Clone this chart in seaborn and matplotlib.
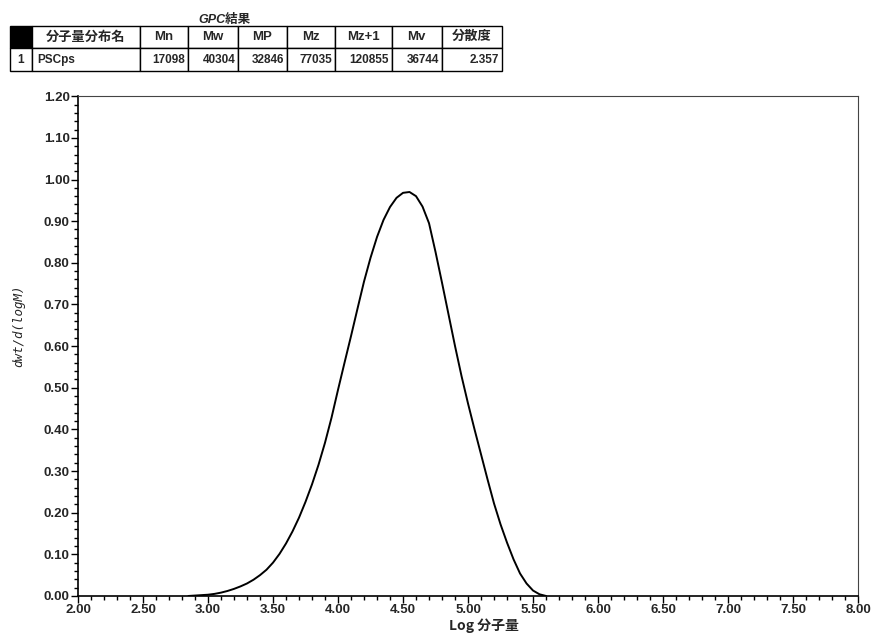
import numpy as np
import pandas as pd
import matplotlib
matplotlib.use("Agg")
import matplotlib.pyplot as plt
import seaborn as sns
from matplotlib.ticker import MultipleLocator, FormatStrFormatter

# GPC summary table
table_title = "GPC結果"
col_labels = ["", "分子量分布名", "Mn", "Mw", "MP", "Mz", "Mz+1", "Mv", "分散度"]
row_values = ["1", "PSCps", "17098", "40304", "32846", "77035", "120855", "36744", "2.357"]

# distribution curve
log_m = [2.85, 2.90, 2.95, 3.00, 3.05, 3.10, 3.15, 3.20, 3.25, 3.30,
         3.35, 3.40, 3.45, 3.50, 3.55, 3.60, 3.65, 3.70, 3.75, 3.80,
         3.85, 3.90, 3.95, 4.00, 4.05, 4.10, 4.15, 4.20, 4.25, 4.30,
         4.35, 4.40, 4.45, 4.50, 4.55, 4.60, 4.65, 4.70, 4.75, 4.80,
         4.85, 4.90, 4.95, 5.00, 5.05, 5.10, 5.15, 5.20, 5.25, 5.30,
         5.35, 5.40, 5.45, 5.50, 5.55, 5.60]
dwt = [0.000, 0.001, 0.002, 0.003, 0.005, 0.008, 0.012, 0.017, 0.023, 0.030,
       0.039, 0.050, 0.063, 0.080, 0.101, 0.126, 0.155, 0.188, 0.226, 0.268,
       0.315, 0.368, 0.428, 0.495, 0.560, 0.624, 0.690, 0.755, 0.812, 0.862,
       0.903, 0.934, 0.956, 0.968, 0.970, 0.960, 0.935, 0.895, 0.826, 0.752,
       0.676, 0.600, 0.528, 0.462, 0.400, 0.340, 0.280, 0.222, 0.172, 0.128,
       0.088, 0.054, 0.030, 0.013, 0.004, 0.000]

sns.set_theme(style="white")
plt.rcParams['font.family'] = ['Liberation Sans', 'Noto Sans CJK JP', 'DejaVu Sans']
cjk = ['Noto Sans CJK JP', 'DejaVu Sans']

fig = plt.figure(figsize=(8.81, 6.33), dpi=100)
ax = fig.add_axes([0.0885, 0.0585, 0.8855, 0.7895])

df = pd.DataFrame({'logM': log_m, 'dwt': dwt})
sns.lineplot(data=df, x='logM', y='dwt', ax=ax, color='black', linewidth=1.4)

ax.set_xlim(2.0, 8.0)
ax.set_ylim(0.0, 1.2)
ax.xaxis.set_major_locator(MultipleLocator(0.5))
ax.xaxis.set_minor_locator(MultipleLocator(0.1))
ax.yaxis.set_major_locator(MultipleLocator(0.1))
ax.yaxis.set_minor_locator(MultipleLocator(0.02))
ax.xaxis.set_major_formatter(FormatStrFormatter('%.2f'))
ax.yaxis.set_major_formatter(FormatStrFormatter('%.2f'))
ax.tick_params(axis='both', which='major', direction='out', length=5, width=1,
               color='black', labelsize=9.5, pad=1, bottom=True, left=True)
ax.tick_params(axis='both', which='minor', direction='out', length=3, width=1,
               color='black', bottom=True, left=True)
for lbl in ax.get_xticklabels() + ax.get_yticklabels():
    lbl.set_fontweight('bold')

for side in ['left', 'bottom']:
    ax.spines[side].set_color('black')
    ax.spines[side].set_linewidth(1.2)
for side in ['top', 'right']:
    ax.spines[side].set_color('#444444')
    ax.spines[side].set_linewidth(0.8)

ax.set_xlabel("Log 分子量", family=cjk, fontsize=10, style='italic', fontweight='bold')
ax.set_ylabel("dwt/d(logM)", fontsize=9, style='italic', family=['DejaVu Sans Mono'])
ax.xaxis.set_label_coords(0.52, -0.045)
ax.yaxis.set_label_coords(-0.068, 0.54)

# table at the top
tax = fig.add_axes([0.0114, 0.8883, 0.558, 0.0706])
tax.axis('off')
widths = [22, 108, 48, 50, 49, 48, 57, 50, 60]
tbl = tax.table(cellText=[row_values], colLabels=col_labels,
                colWidths=[w / sum(widths) for w in widths],
                bbox=[0, 0, 1, 1], cellLoc='center')
tbl.auto_set_font_size(False)
for (r, c), cell in tbl.get_celld().items():
    cell.set_edgecolor('black')
    cell.set_linewidth(1.0)
    txt = cell.get_text()
    txt.set_fontsize(9.5 if r == 0 else 8.5)
    txt.set_fontweight('bold')
    txt.set_fontfamily(['Liberation Sans', 'Noto Sans CJK JP'])
    if r == 0 and c == 0:
        cell.set_facecolor('black')
    if r == 1:
        cell.PAD = 0.05
        if c == 1:
            txt.set_horizontalalignment('left')
        elif c >= 2:
            txt.set_horizontalalignment('right')
fig.text(0.255, 0.968, table_title, ha='center', va='center', fontsize=9,
         style='italic', fontweight='bold', family=['Liberation Sans', 'Noto Sans CJK JP'])

fig.savefig("out.png", dpi=100, facecolor='white')
